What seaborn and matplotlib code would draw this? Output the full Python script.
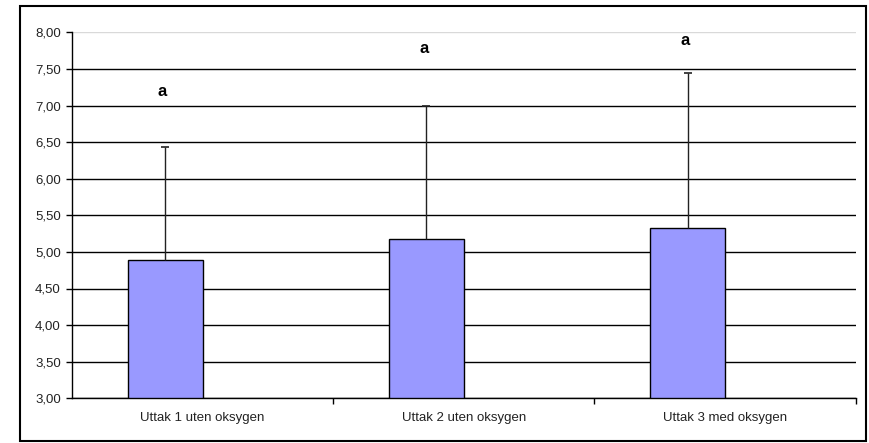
import numpy as np
import pandas as pd
import seaborn as sns
import matplotlib.pyplot as plt
from matplotlib.patches import Rectangle
from matplotlib.ticker import FixedLocator, FuncFormatter

sns.set_theme(style='white')
plt.rcParams['font.family'] = ['Liberation Sans', 'DejaVu Sans']

# data
categories = ['Uttak 1 uten oksygen', 'Uttak 2 uten oksygen', 'Uttak 3 med oksygen']
means = [4.89, 5.17, 5.32]
errors = [1.54, 1.83, 2.12]
letters = ['a', 'a', 'a']
letter_y = [7.19, 7.78, 7.89]

# second (empty) series so the bars sit left of the category centre, like the Excel original
df = pd.DataFrame({
    'Uttak': categories * 2,
    'verdi': means + [np.nan] * len(categories),
    'serie': ['s1'] * len(categories) + ['s2'] * len(categories),
})

fig = plt.figure(figsize=(8.69, 4.43), dpi=100)
ax = fig.add_axes([72 / 869, 1 - 398.3 / 443, (855.7 - 72) / 869, (398.3 - 32.3) / 443])

sns.barplot(data=df, x='Uttak', y='verdi', hue='serie', hue_order=['s1', 's2'],
            palette=['#9999FF', '#9999FF'], saturation=1, width=0.575, gap=0, errorbar=None,
            edgecolor='black', linewidth=1, legend=False, ax=ax)

bars = [p for p in ax.patches if np.isfinite(p.get_height()) and p.get_height() > 0]
bars = sorted(bars, key=lambda p: p.get_x())[:len(categories)]
xs = [p.get_x() + p.get_width() / 2 for p in bars]
tops = [m + e for m, e in zip(means, errors)]

# plus-only error bars: whisker + top cap
ax.vlines(xs, means, tops, colors='#222222', linewidth=1, zorder=1)
ax.plot(xs, tops, linestyle='none', marker='_', markersize=6, markeredgewidth=1.2,
        color='#222222', zorder=1)
for x, ly, t in zip(xs, letter_y, letters):
    ax.text(x - 0.01, ly, t, ha='center', va='center', fontsize=12, fontweight='bold', color='black')

ax.set_ylim(3, 8)
ax.set_xlim(-0.5, 2.5)
ax.set_yticks(np.arange(3, 8.01, 0.5))
ax.yaxis.set_major_formatter(FuncFormatter(lambda v, p: f'{v:.2f}'.replace('.', ',')))
ax.yaxis.grid(True, color='black', linewidth=1)
ax.set_axisbelow(True)
ax.get_ygridlines()[-1].set_color('#d9d9d9')

ax.xaxis.set_minor_locator(FixedLocator([0.5, 1.5, 2.5]))
ax.tick_params(axis='x', which='major', length=0, pad=10, labelsize=9.5, colors='#222222')
ax.tick_params(axis='x', which='minor', length=4, width=1, color='black', direction='out')
ax.tick_params(axis='y', length=4, width=1, color='black', direction='out', pad=4,
               labelsize=9.5, labelcolor='#222222')
ax.tick_params(axis='x', which='both', bottom=True)
ax.tick_params(axis='y', left=True)

ax.set_xlabel('')
ax.set_ylabel('')
for s in ['top', 'right']:
    ax.spines[s].set_visible(False)
for s in ['left', 'bottom']:
    ax.spines[s].set_color('black')
    ax.spines[s].set_linewidth(1)

fig.patches.append(Rectangle((20 / 869, 2 / 443), 846 / 869, 435 / 443, transform=fig.transFigure,
                             fill=False, edgecolor='black', linewidth=1.5))

fig.savefig('out.png', dpi=100, facecolor='white')
